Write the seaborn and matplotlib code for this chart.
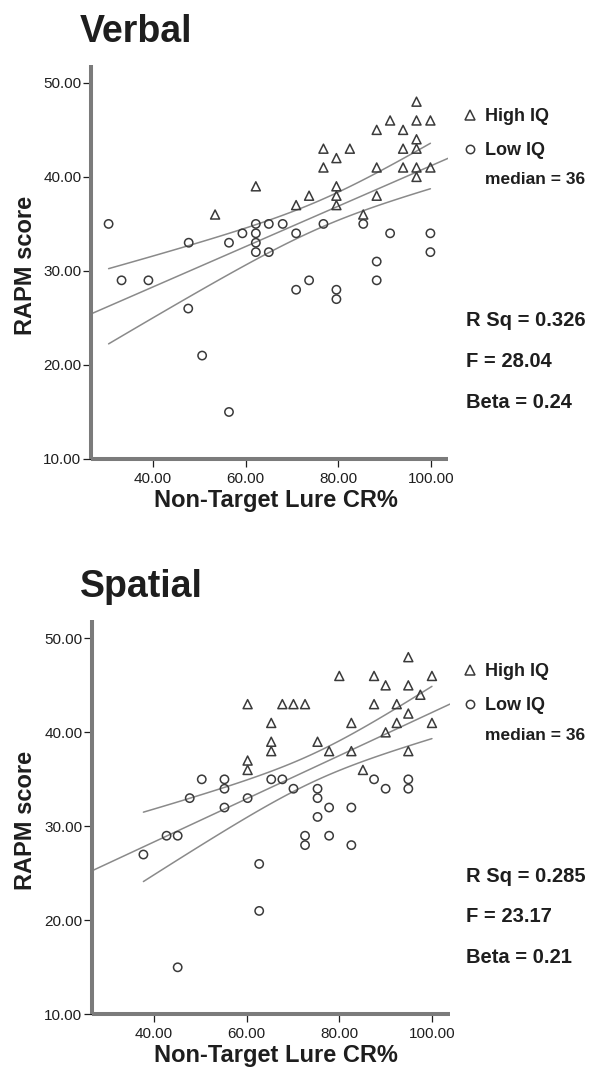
import numpy as np
import pandas as pd
import matplotlib
matplotlib.use("Agg")
import matplotlib.pyplot as plt
from matplotlib.lines import Line2D
from matplotlib.ticker import FixedLocator, StrMethodFormatter
import seaborn as sns

sns.set_theme(style="white")
plt.rcParams["font.family"] = ["Liberation Sans", "DejaVu Sans"]

# ---------------- data ----------------
panel_titles = ["Verbal", "Spatial"]
group_labels = ["High IQ", "Low IQ"]
x_ticks = [40, 60, 80, 100]
y_ticks = [10, 20, 30, 40, 50]
x_label = "Non-Target Lure CR%"
y_label = "RAPM score"
median_note = "median = 36"

verbal_high_x = [53.4, 62.2, 96.9, 91.2, 96.9, 99.9, 88.3, 94.0, 96.9, 76.8, 82.5, 94.0, 96.9, 79.6,
                 76.8, 88.3, 94.0, 96.9, 99.9, 96.9, 79.6, 73.7, 79.6, 88.3, 70.9, 79.6, 85.4]
verbal_high_y = [36, 39, 48, 46, 46, 46, 45, 45, 44, 43, 43, 43, 43, 42,
                 41, 41, 41, 41, 41, 40, 39, 38, 38, 38, 37, 37, 36]
verbal_low_x = [30.4, 47.7, 33.2, 39.0, 47.6, 50.6, 56.4, 56.4, 59.3, 62.2, 62.2, 62.2, 62.2, 65.0,
                65.0, 68.0, 70.9, 76.8, 85.4, 91.2, 99.9, 99.9, 88.3, 70.9, 73.7, 79.6, 79.6, 88.3]
verbal_low_y = [35, 33, 29, 29, 26, 21, 15, 33, 34, 35, 34, 33, 32, 35,
                32, 35, 34, 35, 35, 34, 34, 32, 31, 28, 29, 28, 27, 29]

spatial_high_x = [60.2, 67.7, 70.1, 72.6, 65.3, 65.3, 65.3, 60.2, 60.2, 94.9, 80.0, 87.5, 100.0, 90.0,
                  94.9, 97.5, 87.5, 92.4, 94.9, 82.6, 92.4, 100.0, 90.0, 75.3, 77.8, 82.6, 94.9, 85.1]
spatial_high_y = [43, 43, 43, 43, 41, 39, 38, 37, 36, 48, 46, 46, 46, 45,
                  45, 44, 43, 43, 42, 41, 41, 41, 40, 39, 38, 38, 38, 36]
spatial_low_x = [50.3, 55.2, 55.2, 47.7, 60.2, 55.2, 65.3, 67.7, 37.7, 42.7, 45.1, 62.7, 62.7, 45.1,
                 70.1, 75.3, 75.3, 77.8, 82.6, 75.3, 87.5, 90.0, 94.9, 94.9, 72.6, 72.6, 77.8, 82.6]
spatial_low_y = [35, 35, 34, 33, 33, 32, 35, 35, 27, 29, 29, 26, 21, 15,
                 34, 34, 33, 32, 32, 31, 35, 34, 35, 34, 29, 28, 29, 28]

verbal_stats = ["R Sq = 0.326", "F = 28.04", "Beta = 0.24"]
spatial_stats = ["R Sq = 0.285", "F = 23.17", "Beta = 0.21"]

# ---------------- figure ----------------
W, H = 595, 1077
fig = plt.figure(figsize=(W / 100, H / 100), dpi=100)
fig.patch.set_facecolor("white")


def fx(px):
    return px / W


def fy(py):
    return 1 - py / H


SPINE = "#7b7b7b"
TXT = "#1e1e1e"
LINE = "#8a8a8a"
MARK = "#3a3a3a"


def panel(off, rect_px, xlim, title, hx, hy, lx, ly, stats):
    left, top, right, bottom = rect_px
    ax = fig.add_axes([fx(left), fy(bottom), fx(right) - fx(left), fy(top) - fy(bottom)])
    ax.set_facecolor("white")

    df = pd.DataFrame({
        "x": list(hx) + list(lx),
        "y": list(hy) + list(ly),
        "group": [group_labels[0]] * len(hx) + [group_labels[1]] * len(lx),
    })

    # regression line with 95% CI of the mean
    x = df["x"].to_numpy(float)
    y = df["y"].to_numpy(float)
    n = len(x)
    b, a = np.polyfit(x, y, 1)
    resid = y - (a + b * x)
    s = np.sqrt(np.sum(resid ** 2) / (n - 2))
    xbar = x.mean()
    sxx = np.sum((x - xbar) ** 2)
    t = 2.006
    gfull = np.linspace(xlim[0], xlim[1], 100)
    gdata = np.linspace(x.min(), x.max(), 100)
    se = s * np.sqrt(1 / n + (gdata - xbar) ** 2 / sxx)
    fit_d = a + b * gdata
    sns.lineplot(x=gfull, y=a + b * gfull, ax=ax, color=LINE, linewidth=1.1, zorder=1)
    sns.lineplot(x=gdata, y=fit_d + t * se, ax=ax, color=LINE, linewidth=1.1, zorder=1)
    sns.lineplot(x=gdata, y=fit_d - t * se, ax=ax, color=LINE, linewidth=1.1, zorder=1)

    hi = df[df["group"] == group_labels[0]]
    lo = df[df["group"] == group_labels[1]]
    sns.scatterplot(data=hi, x="x", y="y", marker="^", s=42, facecolor="none",
                    edgecolor=MARK, linewidth=1.1, ax=ax, zorder=3)
    sns.scatterplot(data=lo, x="x", y="y", marker="o", s=36, facecolor="none",
                    edgecolor=MARK, linewidth=1.1, ax=ax, zorder=3)

    ax.set_xlim(*xlim)
    ax.set_ylim(10, 51.9)
    ax.xaxis.set_major_locator(FixedLocator(x_ticks))
    ax.yaxis.set_major_locator(FixedLocator(y_ticks))
    ax.xaxis.set_major_formatter(StrMethodFormatter("{x:.2f}"))
    ax.yaxis.set_major_formatter(StrMethodFormatter("{x:.2f}"))
    ax.set_xlabel("")
    ax.set_ylabel("")
    for side in ["top", "right"]:
        ax.spines[side].set_visible(False)
    for side in ["left", "bottom"]:
        ax.spines[side].set_visible(True)
        ax.spines[side].set_color(SPINE)
        ax.spines[side].set_linewidth(2.9)
        ax.spines[side].set_capstyle("butt")
    ax.tick_params(axis="both", which="major", direction="out", length=5.5, width=0.9,
                   color=TXT, labelcolor=TXT, labelsize=11, bottom=True, left=True)
    ax.tick_params(axis="x", pad=4)
    ax.tick_params(axis="y", pad=1.5)

    # titles and labels
    fig.text(fx(80), fy(42 + off), title, fontsize=27, fontweight="bold", color=TXT,
             ha="left", va="baseline")
    fig.text(fx(25), fy(265 + off), y_label, rotation=90, fontsize=17, fontweight="bold",
             color=TXT, ha="center", va="center")
    fig.text(fx(275.5), fy(500 + off), x_label, fontsize=17, fontweight="bold",
             color=TXT, ha="center", va="center")

    # legend
    handles = [
        Line2D([], [], linestyle="none", marker="^", markersize=6.5, markerfacecolor="none",
               markeredgecolor=MARK, markeredgewidth=1.1),
        Line2D([], [], linestyle="none", marker="o", markersize=6.0, markerfacecolor="none",
               markeredgecolor=MARK, markeredgewidth=1.1),
    ]
    leg = ax.legend(handles, group_labels, loc="upper left",
                    bbox_to_anchor=(fx(461), fy(108 + off)), bbox_transform=fig.transFigure,
                    frameon=False, borderpad=0, borderaxespad=0, handlelength=1.0,
                    handletextpad=0.35, labelspacing=0.95,
                    prop={"size": 13, "weight": "bold"})
    for t_ in leg.get_texts():
        t_.set_color(TXT)
    fig.text(fx(485), fy(180 + off), median_note, fontsize=12.5, fontweight="bold",
             color=TXT, ha="left", va="center")

    for i, st in enumerate(stats):
        fig.text(fx(466), fy(321 + 40.5 * i + off), st, fontsize=14.5, fontweight="bold",
                 color=TXT, ha="left", va="center")
    return ax


panel(0, (91, 65, 448, 459), (26.6, 103.7), panel_titles[0],
      verbal_high_x, verbal_high_y, verbal_low_x, verbal_low_y, verbal_stats)
panel(555.3, (92, 620.5, 450, 1014.3), (26.6, 103.9), panel_titles[1],
      spatial_high_x, spatial_high_y, spatial_low_x, spatial_low_y, spatial_stats)

fig.savefig("out.png", dpi=100, facecolor="white")
